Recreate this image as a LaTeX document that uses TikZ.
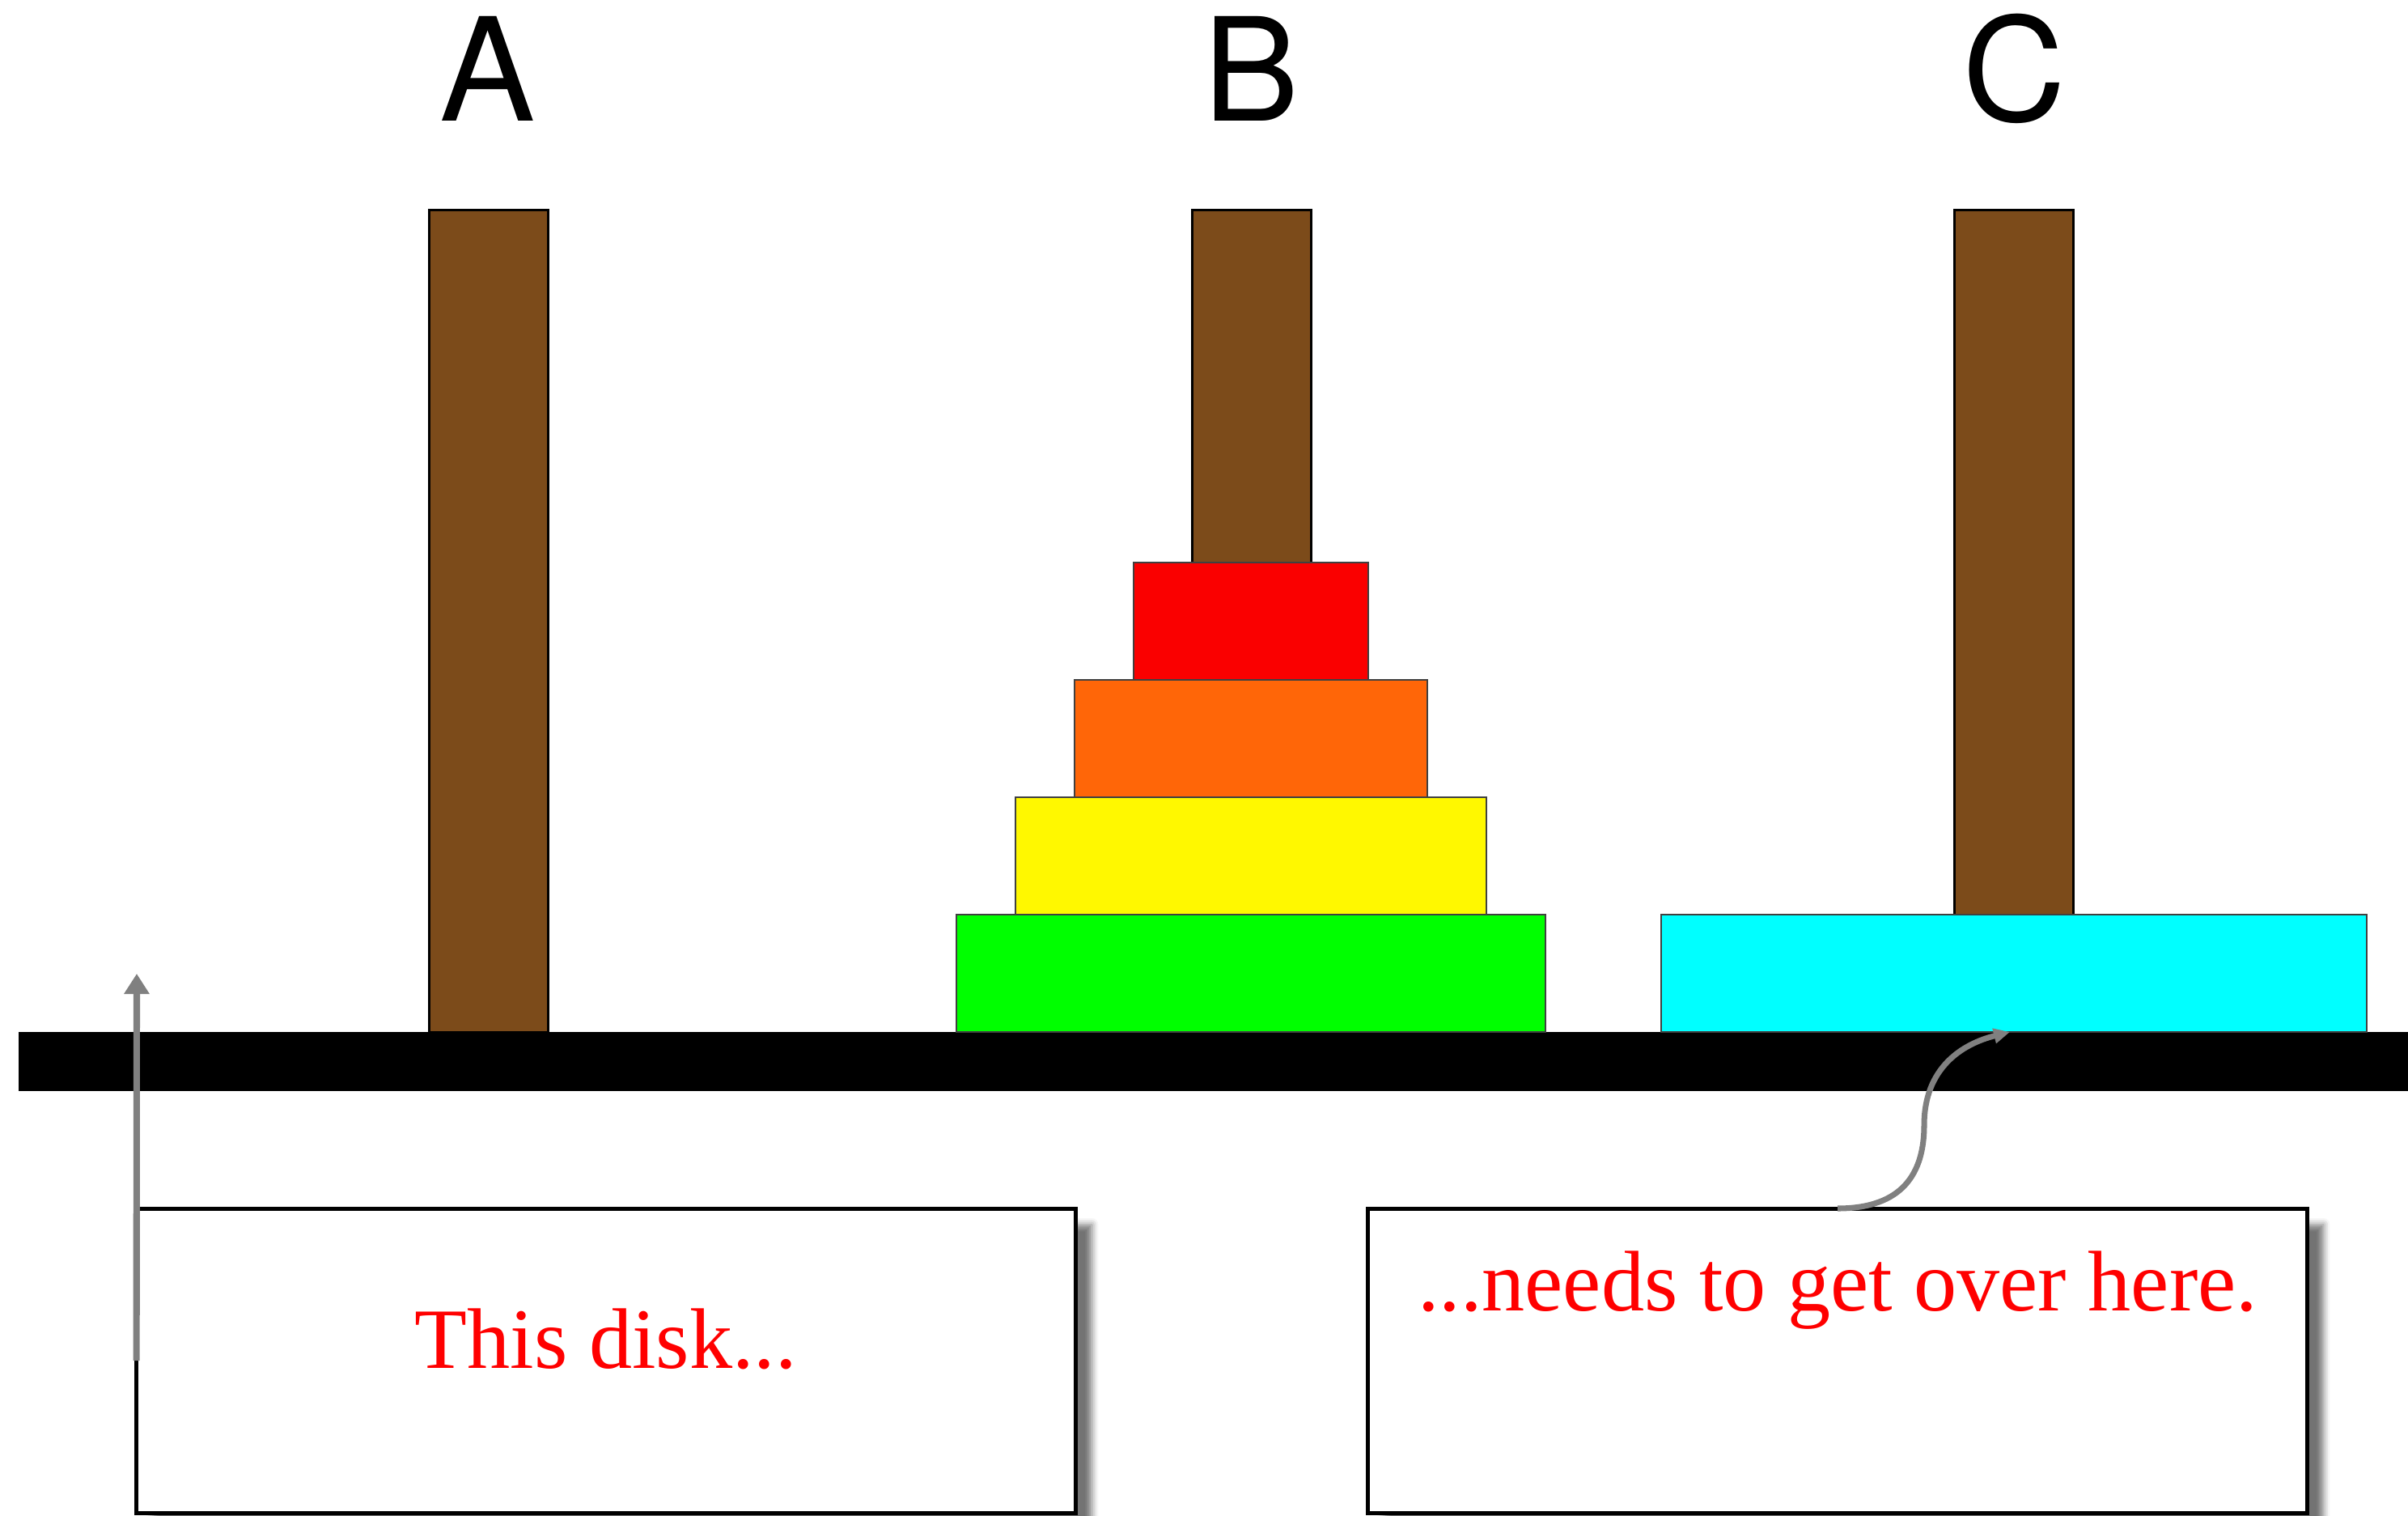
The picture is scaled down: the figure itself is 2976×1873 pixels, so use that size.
\documentclass[tikz,border=0pt]{standalone}
\usepackage{fontspec}
\setmainfont{Liberation Serif}
\newfontfamily\pegfont{TeX Gyre Heros}
\usetikzlibrary{arrows.meta,shadows.blur}
\definecolor{pegbrown}{RGB}{124,75,26}
\definecolor{diskred}{RGB}{250,0,0}
\definecolor{diskorange}{RGB}{255,102,8}
\definecolor{diskyellow}{RGB}{255,248,0}
\definecolor{diskgreen}{RGB}{0,255,0}
\definecolor{diskcyan}{RGB}{0,255,255}
\definecolor{hintgray}{RGB}{128,128,128}
\begin{document}
\begin{tikzpicture}[x=0.01cm,y=-0.01cm,
  peg/.style={draw=black, line width=0.7pt, fill=pegbrown, inner sep=0pt, outer sep=0pt,
    minimum width=1.47cm, minimum height=10.15cm, anchor=south},
  disk/.style={draw=black!75, line width=0.6pt, inner sep=0pt, outer sep=0pt,
    minimum height=1.45cm, anchor=south},
  pegname/.style={font=\pegfont\fontsize{50.4}{60}\selectfont, anchor=base, inner sep=0pt},
  notebox/.style={draw=black, line width=1.42pt, fill=white, inner sep=0pt, outer sep=0pt,
    minimum width=11.6cm, minimum height=3.76cm, anchor=north,
    blur shadow={shadow xshift=0.2cm, shadow yshift=-0.2cm, shadow blur radius=0.08cm, shadow opacity=55}},
  note/.style={text=red, font=\fontsize{30.2}{36}\selectfont, anchor=base, inner sep=0pt},
  hint/.style={draw=hintgray, line width=2.3pt}
]
\useasboundingbox (0,0) rectangle (2976,1873);
\clip (0,0) rectangle (2976,1873);

% peg labels
\node[pegname] (labA) at (603,150) {A};
\node[pegname] (labB) at (1547,150) {B};
\node[pegname] (labC) at (2489,150) {C};

% pegs
\node[peg] (pegA) at (604,1275) {};
\node[peg] (pegB) at (1547,1275) {};
\node[peg] (pegC) at (2489,1275) {};

% base plank
\node[fill=black, inner sep=0pt, outer sep=0pt, minimum width=29.53cm, minimum height=0.73cm,
  anchor=north west] (base) at (23,1275) {};

% disks on peg B
\node[disk, fill=diskgreen,  minimum width=7.28cm] (dgreen)  at (1546,1275) {};
\node[disk, fill=diskyellow, minimum width=5.82cm] (dyellow) at (1546,1130) {};
\node[disk, fill=diskorange, minimum width=4.36cm] (dorange) at (1546,985) {};
\node[disk, fill=diskred,    minimum width=2.90cm] (dred)    at (1546,840) {};

% largest disk on peg C
\node[disk, fill=diskcyan, minimum width=8.72cm] (dcyan) at (2489,1275) {};

% note boxes
\node[notebox] (lbox) at (749,1493) {};
\node[notebox] (rbox) at (2271,1493) {};
\node[note] (ltext) at (749,1690) {This disk...};
\node[note] (rtext) at (2271,1619) {...needs to get over here.};

% pointers
\coordinate (disktip) at (169,1203);
\draw[hint, -{Triangle[width=0.3cm,length=0.25cm]}] (lbox.west) -- (disktip);
\draw[hint, line width=2pt, -{Triangle[width=0.18cm,length=0.2cm]}]
  (rbox.north) .. controls +(80,0) and +(0,60) .. (2378,1390)
  .. controls +(0,-70) and +(-60,15) .. ([xshift=-0.05cm]dcyan.south);
\end{tikzpicture}
\end{document}
